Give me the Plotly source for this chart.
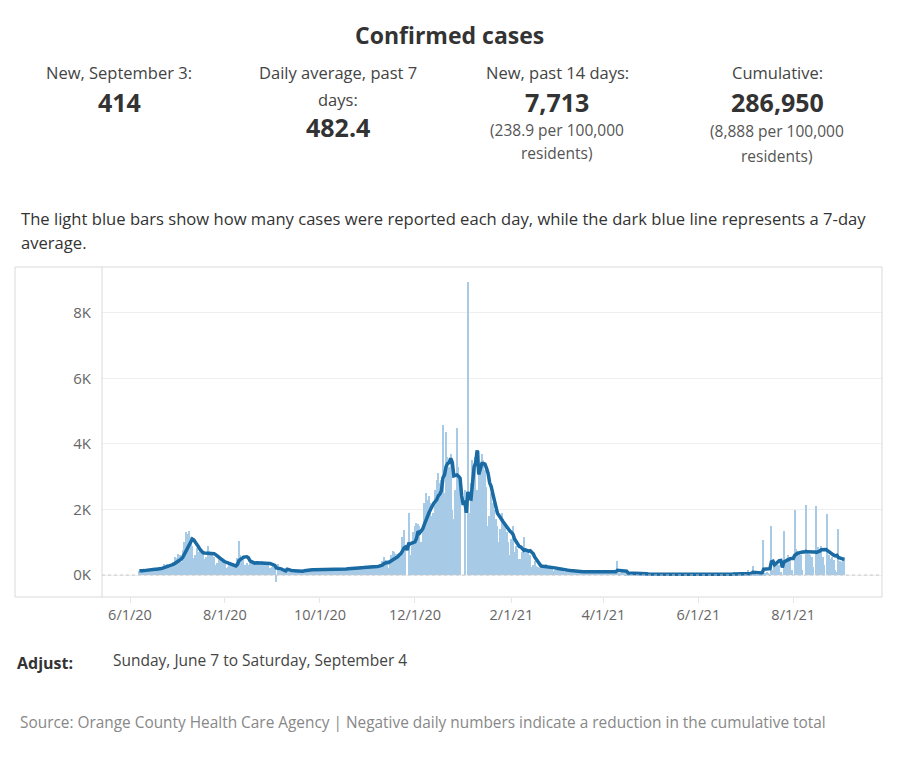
import pandas as pd
import plotly.graph_objects as go

# ---- Daily confirmed cases (Sun..Sat weeks starting 2020-06-07) ----
summer_2020 = [
    130, 110, 160, 140, 180, 170, 160,
    150, 160, 230, 190, 200, 170, 220,
    220, 240, 330, 300, 350, 280, 300,
    340, 400, 560, 520, 640, 600, 400,
    750, 1000, 1310, 1250, 1330, 1150, 900,
    520, 600, 820, 700, 760, 680, 660,
    480, 560, 900, 720, 700, 640, 550,
    300, 380, 520, 450, 420, 400, 330,
    200, 240, 340, 300, 280, 260, 340,
    520, 1040, 620, 560, 480, 320, 380,
    300, 420, 400, 380, 350, 380, 360,
    330, 380, 440, 400, 360, 350, 330,
    200, 260, 280, 300, -210, 330, 240,
]
fall_2020 = [
    120, 90, 150, 180, 140, 160, 140,
    80, 70, 120, 130, 110, 140, 120,
    130, 150, 190, 170, 160, 180, 140,
    140, 150, 210, 180, 170, 190, 150,
    130, 160, 200, 190, 180, 170, 160,
    140, 150, 210, 200, 180, 190, 160,
    180, 200, 260, 240, 230, 220, 210,
    190, 210, 270, 250, 240, 230, 220,
    200, 240, 300, 280, 270, 260, 270,
    280, 340, 420, 560, 470, 380, 210,
    460, 600, 720, 690, 650, 590, 630,
    700, 1160, 1380, 900, 0, 1880, 620,
]
winter_2020_21 = [
    900, 1300, 1500, 1600, 1550, 1500, 1000,
    1400, 2200, 2500, 2300, 2400, 2200, 1800,
    1900, 2600, 2900, 3100, 2800, 2900, 4580,
    2500, 4370, 3600, 3300, 3700, 2000, 1700,
    2600, 4490, 3300, 2900, 0, 0, 2600,
    0, 8950, 1900, 2800, 3500, 3300, 3600,
    2600, 3800, 3300, 3700, 3500, 3200, 2700,
    1500, 1800, 2500, 2200, 2000, 1700, 1500,
    1000, 1400, 1900, 1700, 1500, 1300, 1000,
    600, 1100, 1500, 700, 900, 800, 500,
    500, 700, 1160, 800, 750, 700, 600,
    250, 300, 420, 280, 250, 230, 200,
    200, 260, 330, 280, 260, 240, 200,
]
spring_2021 = [
    120, 160, 220, 190, 180, 170, 150,
    90, 110, 160, 140, 130, 120, 100,
    80, 90, 130, 120, 110, 100, 90,
    70, 100, 140, 110, 100, 110, 80,
    80, 90, 120, 130, 110, 100, 90,
    70, 90, 130, 110, 100, 90, 430,
    60, 70, 80, 70, 60, 50, 40,
    30, 40, 60, 50, 45, 40, 35,
    25, 30, 45, 40, 35, 30, 25,
    20, 30, 40, 35, 30, 35, 20,
    20, 25, 40, 30, 35, 30, 20,
    15, 25, 35, 30, 30, 25, 20,
    15, 20, 30, 30, 25, 25, 15,
    15, 20, 35, 25, 25, 20, 15,
    10, 20, 30, 25, 25, 20, 15,
]
summer_2021 = [
    15, 20, 30, 25, 25, 20, 15,
    15, 25, 35, 30, 100, 25, 20,
    20, 30, 40, 35, 30, 30, 150,
    25, 35, 280, 40, 35, 30, 20,
    20, 30, 1070, 60, 80, 70, 40,
    1500, 150, 300, 350, 420, 300, 100,
    0, 1340, 500, 520, 600, 450, 150,
    0, 2000, 800, 700, 650, 600, 150,
    0, 2150, 700, 650, 600, 550, 250,
    0, 2100, 850, 750, 900, 550, 300,
    0, 1850, 600, 500, 550, 450, 150,
    100, 1400, 430, 400, 483, 414,
]
start_date = "2020-06-07"

tick_dates = ["2020-06-01", "2020-08-01", "2020-10-01", "2020-12-01",
              "2021-02-01", "2021-04-01", "2021-06-01", "2021-08-01"]
tick_labels = ["6/1/20", "8/1/20", "10/1/20", "12/1/20",
               "2/1/21", "4/1/21", "6/1/21", "8/1/21"]
y_ticks = [0, 2000, 4000, 6000, 8000]
y_labels = ["0K", "2K", "4K", "6K", "8K"]

daily = summer_2020 + fall_2020 + winter_2020_21 + spring_2021 + summer_2021
dates = pd.date_range(start_date, periods=len(daily), freq="D")
s = pd.Series(daily, index=dates)
avg7 = s.rolling(7, min_periods=1).mean()

W, H = 897, 768
OFF = 8  # page body margin
def px(x):
    return (x - OFF) / W
def py(y):
    return 1 - (y - OFF) / H

FONT = "Open Sans, Lato, sans-serif"

fig = go.Figure()
fig.add_trace(go.Bar(x=dates, y=daily, marker_color="#a7cbe7",
                     marker_line_width=0, width=86400000 * 0.9,
                     name="Daily"))
fig.add_trace(go.Scatter(x=dates, y=avg7.values, mode="lines",
                         line=dict(color="#1a6aa4", width=3.5),
                         name="7-day average"))

fig.update_layout(
    width=W, height=H, margin=dict(l=0, r=0, t=0, b=0),
    paper_bgcolor="white", plot_bgcolor="white", showlegend=False,
    bargap=0,
    font=dict(family=FONT, color="#333"),
    xaxis=dict(domain=[px(102), px(882)], type="date",
               range=["2020-05-14", "2021-09-27"],
               tickvals=tick_dates, ticktext=tick_labels,
               tickfont=dict(size=14.5, color="#666"),
               ticks="outside", ticklen=5, tickcolor="#e6e6e6",
               showgrid=False, zeroline=False, showline=False,
               anchor="y"),
    yaxis=dict(domain=[py(597), py(267)], range=[-670, 9400],
               tickvals=y_ticks, ticktext=y_labels,
               tickfont=dict(size=15, color="#666"),
               showgrid=True, gridcolor="#efefef", gridwidth=1,
               zeroline=False, showline=False, ticks="", ticklabelstandoff=10),
)

# frame
line_col = "#d9d9d9"
fig.add_shape(type="rect", xref="paper", yref="paper",
              x0=px(15), x1=px(882), y0=py(597), y1=py(267),
              line=dict(color=line_col, width=1), layer="above")
fig.add_shape(type="line", xref="paper", yref="paper",
              x0=px(102), x1=px(102), y0=py(597), y1=py(267),
              line=dict(color=line_col, width=1), layer="above")
# dashed zero line
fig.add_shape(type="line", xref="paper", yref="y",
              x0=px(102), x1=px(882), y0=0, y1=0,
              line=dict(color="#c8c8c8", width=1, dash="dot"), layer="above")

def txt(x, y, t, size=15, color="#333", bold=False, anchor="center"):
    if bold:
        t = "<b>" + t + "</b>"
    fig.add_annotation(x=px(x), y=py(y), xref="paper", yref="paper", text=t,
                       showarrow=False, xanchor=anchor, yanchor="middle",
                       font=dict(size=size, color=color, family=FONT))

txt(449, 35, "Confirmed cases", size=23, bold=True)
# column 1
txt(119, 73, "New, September 3:", size=16.5, color="#444")
txt(119, 102, "414", size=25, bold=True)
# column 2
txt(338, 73, "Daily average, past 7", size=16.5, color="#444")
txt(338, 100, "days:", size=16.5, color="#444")
txt(338, 127, "482.4", size=25, bold=True)
# column 3
txt(557, 73, "New, past 14 days:", size=16.5, color="#444")
txt(557, 102, "7,713", size=25, bold=True)
txt(557, 130, "(238.9 per 100,000", size=15.5, color="#555")
txt(557, 153, "residents)", size=15.5, color="#555")
# column 4
txt(777, 73, "Cumulative:", size=16.5, color="#444")
txt(777, 102, "286,950", size=25, bold=True)
txt(777, 131, "(8,888 per 100,000", size=15.5, color="#555")
txt(777, 156, "residents)", size=15.5, color="#555")

txt(19, 219, "The light blue bars show how many cases were reported each day, while the dark blue line represents a 7-day",
    size=16.6, color="#333", anchor="left")
txt(19, 243, "average.", size=16.6, color="#333", anchor="left")

txt(15, 663, "Adjust:", size=16, color="#333", bold=True, anchor="left")
txt(111, 660, "Sunday, June 7 to Saturday, September 4", size=15.5, color="#444", anchor="left")
txt(18, 722, "Source: Orange County Health Care Agency | Negative daily numbers indicate a reduction in the cumulative total",
    size=15.4, color="#888", anchor="left")

fig.write_html("out.html")
